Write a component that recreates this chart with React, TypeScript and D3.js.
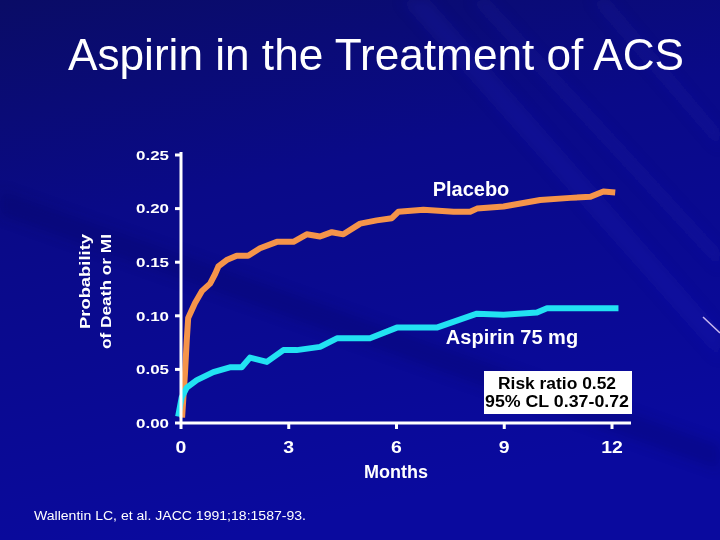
import React, { useEffect, useRef } from "react";
import * as d3 from "d3";

// months / probability
const placeboMonths = [0.03, 0.11, 0.16, 0.2, 0.39, 0.58, 0.81, 0.95, 1.04, 1.27, 1.55, 1.87, 2.2, 2.67, 3.13, 3.5, 3.87, 4.2, 4.52, 4.99, 5.45, 5.87, 6.05, 6.75, 7.59, 8.05, 8.24, 8.98, 10.0, 10.84, 11.4, 11.76, 12.09];
const placeboValues = [0.005, 0.046, 0.077, 0.098, 0.112, 0.123, 0.13, 0.139, 0.146, 0.152, 0.156, 0.156, 0.163, 0.169, 0.169, 0.176, 0.174, 0.178, 0.176, 0.186, 0.189, 0.191, 0.197, 0.199, 0.197, 0.197, 0.2, 0.202, 0.208, 0.21, 0.211, 0.216, 0.215];

const aspirinMonths = [-0.08, 0.02, 0.16, 0.44, 0.9, 1.36, 1.69, 1.92, 2.39, 2.85, 3.22, 3.87, 4.34, 5.26, 6.01, 7.12, 8.24, 8.98, 9.91, 10.19, 12.18];
const aspirinValues = [0.006, 0.024, 0.033, 0.04, 0.0475, 0.052, 0.052, 0.061, 0.057, 0.068, 0.068, 0.071, 0.079, 0.079, 0.089, 0.089, 0.102, 0.101, 0.103, 0.107, 0.107];

const yTicks = [0, 0.05, 0.1, 0.15, 0.2, 0.25];
const xTicks = [0, 3, 6, 9, 12];

const W = 720;
const H = 540;
const FONT = "Liberation Sans, Arial, sans-serif";

export default function App() {
	const ref = useRef(null);

	useEffect(() => {
		const svg = d3.select(ref.current);
		svg.selectAll("*").remove();

		const defs = svg.append("defs");
		const bg = defs.append("linearGradient").attr("id", "bg").attr("x1", 0).attr("y1", 0).attr("x2", 0.3).attr("y2", 1);
		bg.append("stop").attr("offset", "0%").attr("stop-color", "#0a0c66");
		bg.append("stop").attr("offset", "40%").attr("stop-color", "#0a0a88");
		bg.append("stop").attr("offset", "100%").attr("stop-color", "#0a0a9e");
		defs.append("filter").attr("id", "blur").append("feGaussianBlur").attr("stdDeviation", 6);

		svg.append("rect").attr("width", W).attr("height", H).attr("fill", "url(#bg)");

		// faint diagonal streaks of the slide template
		const streaks = svg.append("g").attr("filter", "url(#blur)").attr("fill", "#2a2ac0");
		streaks.append("path").attr("d", "M400,0 L430,0 L720,330 L720,360 Z").attr("opacity", 0.18);
		streaks.append("path").attr("d", "M470,0 L490,0 L720,250 L720,270 Z").attr("opacity", 0.14);
		streaks.append("path").attr("d", "M590,0 L610,0 L720,130 L720,150 Z").attr("opacity", 0.14);
		streaks.append("path").attr("d", "M0,190 L0,215 L720,470 L720,445 Z").attr("fill", "#05054e").attr("opacity", 0.2);
		svg.append("line").attr("x1", 703).attr("y1", 317).attr("x2", 720).attr("y2", 333).attr("stroke", "#c8b8f0").attr("stroke-width", 1.5);

		const x = d3.scaleLinear().domain([0, 12]).range([181, 612]);
		const y = d3.scaleLinear().domain([0, 0.25]).range([423, 155]);

		svg
			.append("text")
			.attr("x", 376)
			.attr("y", 70)
			.attr("text-anchor", "middle")
			.attr("font-family", FONT)
			.attr("font-size", 45)
			.attr("fill", "white")
			.attr("textLength", 616)
			.attr("lengthAdjust", "spacingAndGlyphs")
			.text("Aspirin in the Treatment of ACS");

		const line = d3
			.line()
			.x((d) => x(d[0]))
			.y((d) => y(d[1]));

		svg
			.append("path")
			.datum(placeboMonths.map((m, i) => [m, placeboValues[i]]))
			.attr("d", line)
			.attr("fill", "none")
			.attr("stroke", "#f5944a")
			.attr("stroke-width", 6)
			.attr("stroke-linejoin", "round");

		svg
			.append("path")
			.datum(aspirinMonths.map((m, i) => [m, aspirinValues[i]]))
			.attr("d", line)
			.attr("fill", "none")
			.attr("stroke", "#22e2f2")
			.attr("stroke-width", 6)
			.attr("stroke-linejoin", "round");

		const label = (g, txt, px, py, size, opts = {}) => {
			const t = g
				.append("text")
				.attr("x", px)
				.attr("y", py)
				.attr("text-anchor", opts.anchor || "middle")
				.attr("font-family", FONT)
				.attr("font-weight", opts.weight || "bold")
				.attr("font-size", size)
				.attr("fill", opts.fill || "white")
				.text(txt);
			if (opts.len) t.attr("textLength", opts.len).attr("lengthAdjust", "spacingAndGlyphs");
			if (opts.dy) t.attr("dy", opts.dy);
			return t;
		};

		// y axis
		const yAxis = svg.append("g").attr("transform", "translate(181,0)");
		yAxis.append("line").attr("y1", y(0.25) - 3).attr("y2", y(0) + 1).attr("stroke", "white").attr("stroke-width", 3);
		yTicks.forEach((t) => {
			yAxis.append("line").attr("x1", -6).attr("x2", 0).attr("y1", y(t)).attr("y2", y(t)).attr("stroke", "white").attr("stroke-width", 3);
			label(yAxis, d3.format(".2f")(t), -12, y(t), 13.5, { anchor: "end", len: 33, dy: "0.36em" });
		});

		// x axis
		const xAxis = svg.append("g").attr("transform", "translate(0,423)");
		xAxis.append("line").attr("x1", 180).attr("x2", 631).attr("stroke", "white").attr("stroke-width", 3);
		xTicks.forEach((t) => {
			xAxis.append("line").attr("x1", x(t)).attr("x2", x(t)).attr("y1", 0).attr("y2", 6).attr("stroke", "white").attr("stroke-width", 3);
			label(xAxis, String(t), x(t), 30, 16, { len: String(t).length * 10.8 });
		});

		label(svg, "Months", 396, 478, 18);

		const yTitle = svg.append("g").attr("transform", "rotate(-90)");
		label(yTitle, "Probability", -234, 90, 15, { anchor: "end", len: 95 });
		label(yTitle, "of Death or MI", -234, 111, 15, { anchor: "end", len: 115 });

		label(svg, "Placebo", 471, 196, 20);
		label(svg, "Aspirin 75 mg", 512, 344, 20);

		svg.append("rect").attr("x", 484).attr("y", 371).attr("width", 148).attr("height", 43).attr("fill", "white");
		label(svg, "Risk ratio 0.52", 557, 389, 16, { fill: "black", len: 118 });
		label(svg, "95% CL 0.37-0.72", 557, 407, 16, { fill: "black", len: 144 });

		label(svg, "Wallentin LC, et al. JACC 1991;18:1587-93.", 34, 519.5, 12.5, { anchor: "start", weight: "normal", len: 272 });
	}, []);

	return <svg ref={ref} width={W} height={H} style={{ position: "absolute", left: 0, top: 0 }} />;
}
